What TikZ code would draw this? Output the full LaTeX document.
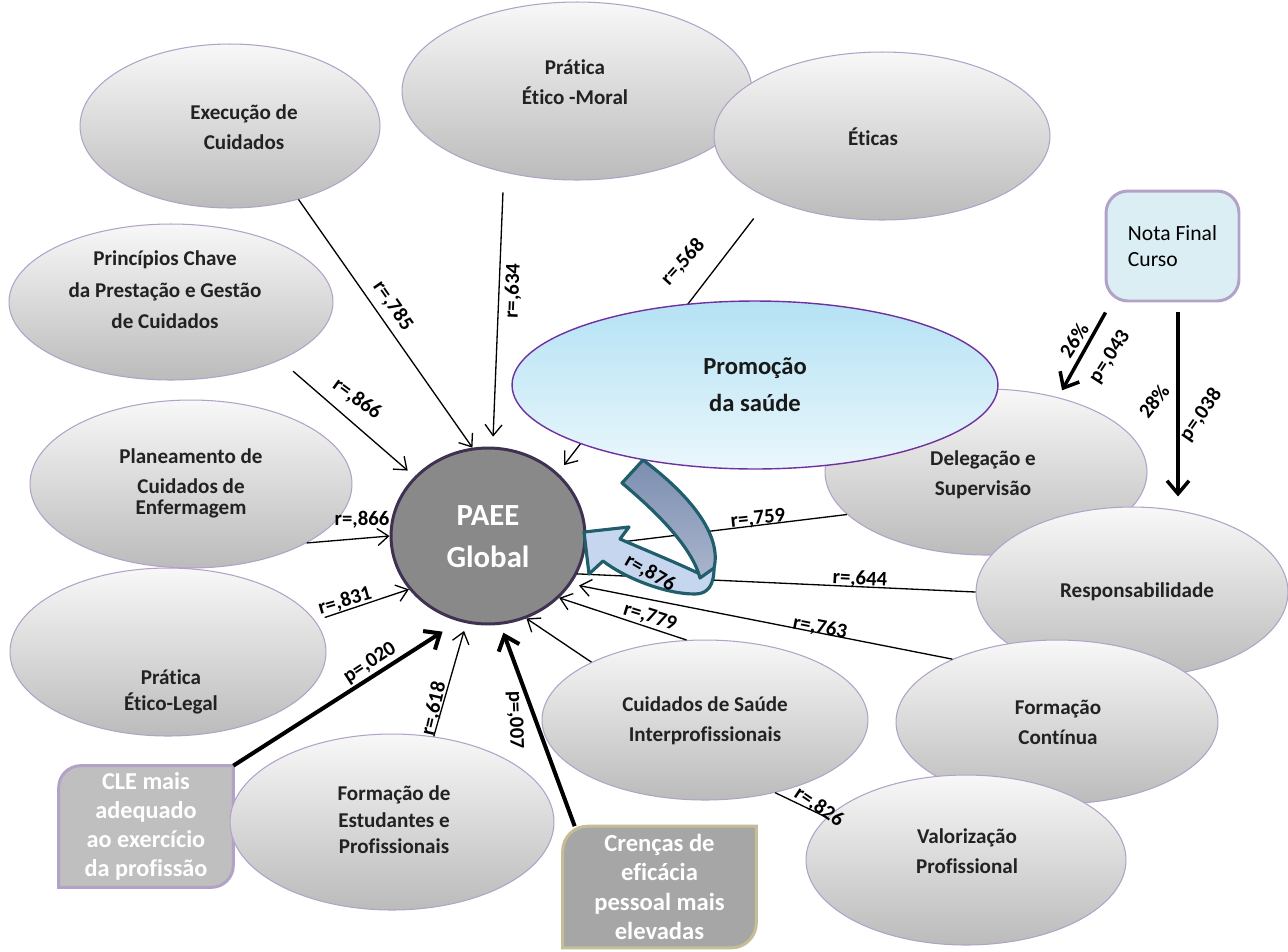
\documentclass[tikz,border=0pt]{standalone}
\usepackage{fontspec}
\setmainfont{Carlito}[Ligatures=NoCommon]
\usetikzlibrary{arrows.meta,shapes.geometric}

\definecolor{bubbleedge}{HTML}{B3A2C7}
\definecolor{bubbletop}{HTML}{F8F8F8}
\definecolor{bubblebot}{HTML}{BBBBBB}
\definecolor{bubbletext}{HTML}{222222}
\definecolor{promotop}{HTML}{B4E2F4}
\definecolor{promobot}{HTML}{EAF7FC}
\definecolor{promoedge}{HTML}{7030A0}
\definecolor{hubfill}{HTML}{898989}
\definecolor{hubedge}{HTML}{3F3151}
\definecolor{clefill}{HTML}{BFBFBF}
\definecolor{crenfill}{HTML}{A6A6A6}
\definecolor{crenedge}{HTML}{C4BD97}
\definecolor{notafill}{HTML}{DBEEF4}
\definecolor{ribbonedge}{HTML}{215E6B}
\definecolor{ribbontop}{HTML}{7C8EB0}
\definecolor{ribbonbot}{HTML}{A9B5CD}
\definecolor{ribbonfront}{HTML}{C6D6EE}

\pgfdeclarelayer{back}
\pgfsetlayers{back,main}

\begin{document}
\begin{tikzpicture}[x=0.02cm, y=-0.02cm,
  bubble/.style={ellipse, draw=bubbleedge, line width=0.6pt,
    top color=bubbletop, bottom color=bubblebot, inner sep=0pt},
  btext/.style={align=center, text=bubbletext, inner sep=0pt,
    font=\fontsize{12}{17}\selectfont\bfseries},
  rlabel/.style={font=\fontsize{11.8}{14}\selectfont\bfseries, inner sep=0pt},
  link/.style={line width=0.75pt, -{Straight Barb[length=0.22cm,width=0.34cm]}},
  plainlink/.style={line width=0.75pt},
  boldlink/.style={line width=2.3pt, -{Straight Barb[length=0.26cm,width=0.44cm]}},
  boxtext/.style={align=center, text=white, inner sep=0pt},
]
\begin{pgfonlayer}{back}
  \fill[white] (0,0) rectangle (1288,951);
\end{pgfonlayer}
\useasboundingbox (0,0) rectangle (1288,951);

% outer ring of competence domains
\node[bubble, minimum width=6.44cm, minimum height=3.32cm] (deleg) at (986,472) {};
\node[bubble, minimum width=6.24cm, minimum height=3.40cm] (resp) at (1132,592) {};
\node[bubble, minimum width=6.44cm, minimum height=3.28cm] (cont) at (1057,722) {};
\node[bubble, minimum width=6.40cm, minimum height=3.40cm] (valor) at (966,860) {};
\node[bubble, minimum width=6.52cm, minimum height=3.20cm] (inter) at (705,720) {};
\node[bubble, minimum width=6.48cm, minimum height=3.52cm] (stud) at (392,822) {};
\node[bubble, minimum width=6.32cm, minimum height=3.36cm] (legal) at (168,652) {};
\node[bubble, minimum width=6.44cm, minimum height=3.36cm] (plan) at (191,484) {};
\node[bubble, minimum width=6.48cm, minimum height=3.12cm] (princ) at (171,302) {};
\node[bubble, minimum width=6.00cm, minimum height=3.28cm] (exec) at (230,126) {};
\node[bubble, minimum width=7.00cm, minimum height=3.56cm] (moral) at (577,91) {};
\node[bubble, minimum width=6.72cm, minimum height=3.36cm] (eticas) at (882,136) {};

\node[btext] (deleg-t) at (983,475) {Delegação e\\Supervisão};
\node[btext] (resp-t) at (1137,592) {Responsabilidade};
\node[btext] (cont-t) at (1058,722) {Formação\\Contínua};
\node[btext] (valor-t) at (967,851) {Valorização\\Profissional};
\node[btext] (inter-t) at (705,721) {Cuidados de Saúde\\Interprofissionais};
\node[btext] (stud-t) at (394,820) {Formação de\\[-2pt]Estudantes e\\[-2pt]Profissionais};
\node[btext] (legal-t) at (171,692) {Prática\\[-2pt]Ético-Legal};
\node[btext] (plan-t) at (191,483) {Planeamento de\\[0pt]Cuidados de\\[-5pt]Enfermagem};
\node[btext] (princ-t) at (165,290) {Princípios Chave\\[1pt]da Prestação e Gestão\\[1pt]de Cuidados};
\node[btext] (exec-t) at (244,127) {Execução de\\Cuidados};
\node[btext] (moral-t) at (575,82) {Prática\\Ético -Moral};
\node[btext] (eticas-t) at (873,137) {Éticas};

% central outcome
\node[ellipse, draw=hubedge, line width=1.7pt, fill=hubfill, inner sep=0pt,
      minimum width=3.88cm, minimum height=3.52cm] (paee) at (488,536) {};

% correlations with the global score
\draw[link] (exec.-47) -- (paee.100);
\draw[link, shorten <=0.4cm, shorten >=0.2cm] (moral.-132) -- (paee.87);
\draw[link, shorten <=0.5cm, shorten >=0.2cm] (eticas.-151.5) -- (paee.42);
\draw[link, shorten <=0.34cm, shorten >=0.18cm] (princ.-28.6) -- (paee.141.3);
\draw[link] (plan.-27.4) -- (paee.180);
\draw[link, shorten <=0.2cm] (legal.12.7) -- (paee.214.7);
\draw[link, shorten >=0.16cm] (stud.64.8) -- (paee.-104.9);
\draw[link] (inter.153.8) -- (paee.-65.7);
\draw[link] (inter.103.7) -- (paee.-41.9);
\draw[link, shorten >=0.16cm] (cont.149.1) -- (paee.-30.6);
\draw[plainlink] (resp.180) -- (paee.-23);
\draw[plainlink] (deleg.197.3) -- (paee.-6);
\draw[plainlink] (inter.-46) -- (valor.163);

% health promotion domain
\node[ellipse, draw=promoedge, line width=0.8pt, top color=promotop,
      bottom color=promobot, inner sep=0pt,
      minimum width=9.72cm, minimum height=3.36cm] (promo) at (755,385) {};
\node[align=center, inner sep=0pt, text=black!90,
      font=\fontsize{14}{21}\selectfont\bfseries] (promo-t) at (755,385) {Promoção\\da saúde};

\node[boxtext, font=\fontsize{17.5}{24}\selectfont\bfseries] (paee-t) at (488,537) {PAEE\\Global};

% predictor boxes
\node[boxtext, minimum width=3.48cm, minimum height=2.42cm,
      font=\fontsize{13.8}{16.5}\selectfont\bfseries] (cle) at (146,826.5)
      {CLE mais\\adequado\\ao exercício\\da profissão};
\node[boxtext, minimum width=3.86cm, minimum height=2.42cm,
      font=\fontsize{14}{16.8}\selectfont\bfseries] (cren) at (659.5,887)
      {Crenças de\\eficácia\\pessoal mais\\elevadas};
\node[rounded corners=0.44cm, draw=bubbleedge, line width=1.7pt, fill=notafill,
      minimum width=2.66cm, minimum height=2.2cm, align=left, inner sep=0pt,
      font=\fontsize{12.3}{15}\selectfont] (nota) at (1172.5,246) {Nota Final\\Curso};

\begin{pgfonlayer}{back}
  \draw[line width=1.7pt, draw=bubbleedge, fill=clefill]
    (cle.south west) -- (cle.west) [rounded corners=0.44cm] -- (cle.north west)
    -- (cle.north) [sharp corners] -- (cle.north east) -- (cle.east)
    [rounded corners=0.44cm] -- (cle.south east) -- (cle.south) [sharp corners] -- cycle;
  \draw[line width=1.7pt, draw=crenedge, fill=crenfill]
    (cren.south west) -- (cren.west) [rounded corners=0.5cm] -- (cren.north west)
    -- (cren.north) [sharp corners] -- (cren.north east) -- (cren.east)
    [rounded corners=0.5cm] -- (cren.south east) -- (cren.south) [sharp corners] -- cycle;
\end{pgfonlayer}

% significant predictors
\draw[boldlink, shorten >=0.38cm] (cle.north east) -- (paee.-109.7);
\draw[boldlink, shorten >=0.17cm] ([xshift=0.24cm]cren.north west) -- (paee.-82.2);
\draw[boldlink, line width=2pt, shorten >=0.16cm]
  ([xshift=0.02cm,yshift=-0.2cm]nota.south west) -- (deleg.46.6);
\draw[boldlink, line width=2pt, shorten >=0.28cm]
  ([xshift=0.11cm,yshift=-0.2cm]nota.south) coordinate (n28) -- (n28 |- resp.60);

% curved ribbon arrow from health promotion
\draw[ribbonedge, line width=1.8pt, line join=round, fill=ribbonfront]
  (584,532) -- (629,527) -- (620,539)
  .. controls (645,550) and (675,562) .. (700,574) -- (714,568)
  .. controls (714,585) and (708,594) .. (695,594)
  .. controls (665,594) and (625,578) .. (603,561)
  -- (589,574) -- cycle;
\draw[ribbonedge, line width=1.8pt, line join=round, top color=ribbontop, bottom color=ribbonbot]
  (622,483) -- (643,460)
  .. controls (690,495) and (722,535) .. (714,568)
  -- (700,578)
  .. controls (692,548) and (660,515) .. cycle;

% coefficients
\node[rlabel, rotate=-55] (t785) at (393,306) {r=,785};
\node[rlabel, rotate=88] (t634) at (513,291) {r=,634};
\node[rlabel, rotate=48] (t568) at (683,262) {r=,568};
\node[rlabel, rotate=-36] (t866a) at (357,399) {r=,866};
\node[rlabel] (t866b) at (362,520) {r=,866};
\node[rlabel, rotate=16] (t831) at (345,601) {r=,831};
\node[rlabel, rotate=33] (t020) at (370,663) {p=,020};
\node[rlabel, rotate=77] (t618) at (434,709) {r=,618};
\node[rlabel, rotate=-88] (t007) at (515,720) {p=,007};
\node[rlabel, rotate=-17] (t779) at (650,617) {r=,779};
\node[rlabel, rotate=-11] (t763) at (820,628) {r=,763};
\node[rlabel, rotate=-3] (t644) at (860,579) {r=,644};
\node[rlabel, rotate=6] (t759) at (758,519) {r=,759};
\node[rlabel, rotate=-30] (t876) at (650,573) {r=,876};
\node[rlabel, rotate=-34] (t826) at (819,807) {r=,826};
\node[rlabel, rotate=57] (t26) at (1074,340) {26\%};
\node[rlabel, rotate=57] (t043) at (1110,357) {p=,043};
\node[rlabel, rotate=52] (t28) at (1154,401) {28\%};
\node[rlabel, rotate=55] (t038) at (1201,415) {p=,038};
\end{tikzpicture}
\end{document}
